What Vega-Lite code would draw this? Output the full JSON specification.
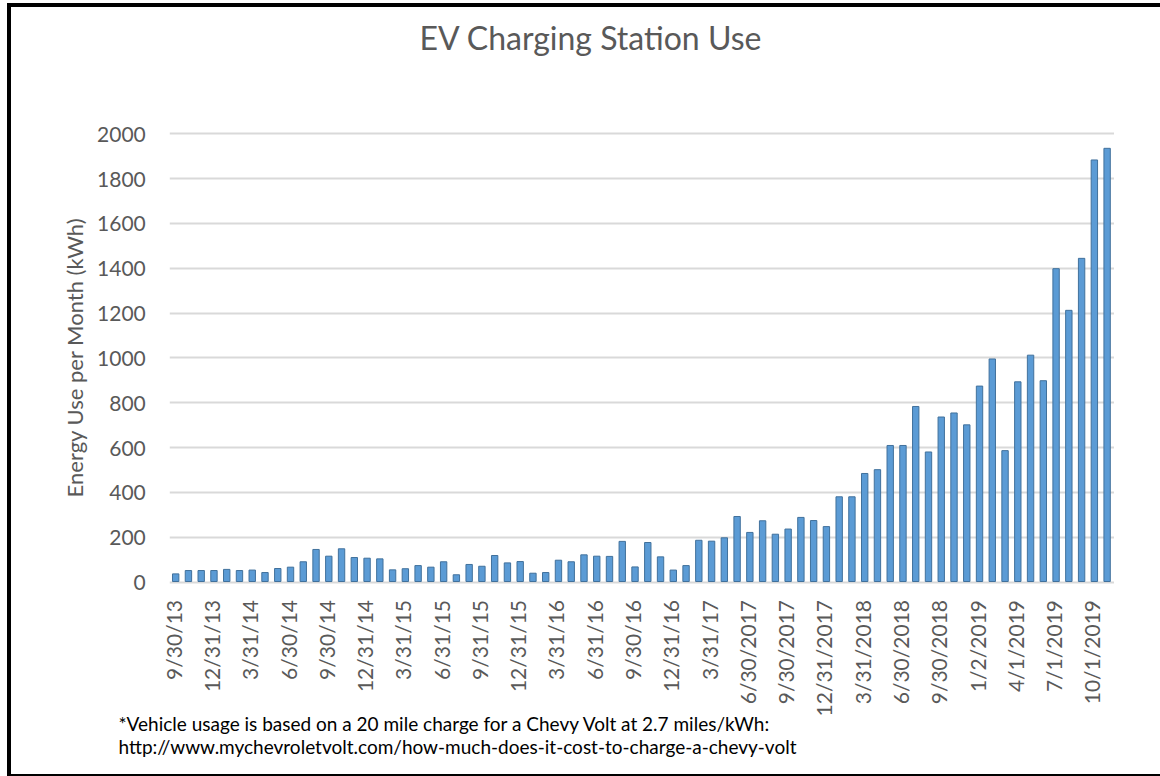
{
  "$schema": "https://vega.github.io/schema/vega-lite/v6.json",
  "autosize": "none",
  "width": 1153,
  "height": 771,
  "padding": {"left": 9, "top": 5, "right": 0, "bottom": 0},
  "background": "white",
  "title": {
    "text": "EV Charging Station Use",
    "font": "Lato",
    "fontSize": 32,
    "fontWeight": "normal",
    "color": "#595959",
    "anchor": "middle",
    "frame": "group",
    "offset": 0,
    "dy": 77,
    "dx": 5,
    "baseline": "alphabetic"
  },
  "config": {"view": {"stroke": "black", "strokeWidth": 4}},
  "data": {
    "values": [
      {"date": "9/30/13", "kwh": 34},
      {"date": "10/31/13", "kwh": 49},
      {"date": "11/30/13", "kwh": 49},
      {"date": "12/31/13", "kwh": 49},
      {"date": "1/31/14", "kwh": 54},
      {"date": "2/28/14", "kwh": 49},
      {"date": "3/31/14", "kwh": 51},
      {"date": "4/30/14", "kwh": 40},
      {"date": "5/31/14", "kwh": 58},
      {"date": "6/30/14", "kwh": 64},
      {"date": "7/31/14", "kwh": 88},
      {"date": "8/31/14", "kwh": 143},
      {"date": "9/30/14", "kwh": 113},
      {"date": "10/31/14", "kwh": 146},
      {"date": "11/30/14", "kwh": 107},
      {"date": "12/31/14", "kwh": 104},
      {"date": "1/31/15", "kwh": 101},
      {"date": "2/28/15", "kwh": 52},
      {"date": "3/31/15", "kwh": 57},
      {"date": "4/30/15", "kwh": 71},
      {"date": "5/31/15", "kwh": 64},
      {"date": "6/31/15", "kwh": 88},
      {"date": "7/31/15", "kwh": 30},
      {"date": "8/31/15", "kwh": 76},
      {"date": "9/31/15", "kwh": 68},
      {"date": "10/31/15", "kwh": 116},
      {"date": "11/30/15", "kwh": 83},
      {"date": "12/31/15", "kwh": 89},
      {"date": "1/31/16", "kwh": 37},
      {"date": "2/29/16", "kwh": 40},
      {"date": "3/31/16", "kwh": 95},
      {"date": "4/30/16", "kwh": 88},
      {"date": "5/31/16", "kwh": 119},
      {"date": "6/31/16", "kwh": 113},
      {"date": "7/31/16", "kwh": 112},
      {"date": "8/31/16", "kwh": 179},
      {"date": "9/30/16", "kwh": 65},
      {"date": "10/31/16", "kwh": 174},
      {"date": "11/30/16", "kwh": 110},
      {"date": "12/31/16", "kwh": 51},
      {"date": "1/31/17", "kwh": 71},
      {"date": "2/28/17", "kwh": 184},
      {"date": "3/31/17", "kwh": 180},
      {"date": "4/30/17", "kwh": 195},
      {"date": "5/31/17", "kwh": 290},
      {"date": "6/30/2017", "kwh": 219},
      {"date": "7/31/2017", "kwh": 271},
      {"date": "8/31/2017", "kwh": 211},
      {"date": "9/30/2017", "kwh": 234},
      {"date": "10/31/2017", "kwh": 286},
      {"date": "11/30/2017", "kwh": 272},
      {"date": "12/31/2017", "kwh": 245},
      {"date": "1/31/2018", "kwh": 378},
      {"date": "2/28/2018", "kwh": 378},
      {"date": "3/31/2018", "kwh": 482},
      {"date": "4/30/2018", "kwh": 499},
      {"date": "5/31/2018", "kwh": 607},
      {"date": "6/30/2018", "kwh": 607},
      {"date": "7/31/2018", "kwh": 781},
      {"date": "8/31/2018", "kwh": 578},
      {"date": "9/30/2018", "kwh": 734},
      {"date": "10/31/2018", "kwh": 752},
      {"date": "11/30/2018", "kwh": 699},
      {"date": "1/2/2019", "kwh": 872},
      {"date": "2/1/2019", "kwh": 993},
      {"date": "3/1/2019", "kwh": 584},
      {"date": "4/1/2019", "kwh": 891},
      {"date": "5/1/2019", "kwh": 1010},
      {"date": "6/1/2019", "kwh": 896},
      {"date": "7/1/2019", "kwh": 1396},
      {"date": "8/1/2019", "kwh": 1210},
      {"date": "9/1/2019", "kwh": 1442},
      {"date": "10/1/2019", "kwh": 1881},
      {"date": "11/1/2019", "kwh": 1933}
    ]
  },
  "mark": {"type": "bar", "color": "#5B9BD5", "stroke": "#41719C", "strokeWidth": 1},
  "encoding": {
    "x": {
      "field": "date",
      "type": "nominal",
      "sort": null,
      "scale": {"range": [160.3, 1104.5], "paddingInner": 0.5, "paddingOuter": 0.25},
      "axis": {
        "orient": "bottom",
        "offset": -194.5,
        "values": ["9/30/13", "12/31/13", "3/31/14", "6/30/14", "9/30/14", "12/31/14", "3/31/15", "6/31/15", "9/31/15", "12/31/15", "3/31/16", "6/31/16", "9/30/16", "12/31/16", "3/31/17", "6/30/2017", "9/30/2017", "12/31/2017", "3/31/2018", "6/30/2018", "9/30/2018", "1/2/2019", "4/1/2019", "7/1/2019", "10/1/2019"],
        "labelAngle": -90,
        "labelFont": "Lato",
        "labelFontSize": 21,
        "labelColor": "#595959",
        "labelPadding": 18,
        "labelOverlap": false,
        "ticks": false,
        "domain": false,
        "grid": false,
        "title": ["*Vehicle usage is based on a 20 mile charge for a Chevy Volt at 2.7 miles/kWh:", "http://www.mychevroletvolt.com/how-much-does-it-cost-to-charge-a-chevy-volt"],
        "titleFont": "Lato",
        "titleFontSize": 19,
        "titleFontWeight": "normal",
        "titleColor": "#000000",
        "titleAlign": "left",
        "titleAnchor": "start",
        "titleX": 109,
        "titleY": 148.5,
        "titleBaseline": "alphabetic",
        "titleLineHeight": 23
      }
    },
    "y": {
      "field": "kwh",
      "type": "quantitative",
      "scale": {"domain": [0, 2000], "range": [576.5, 128.3], "nice": false},
      "axis": {
        "offset": -160.3,
        "values": [0, 200, 400, 600, 800, 1000, 1200, 1400, 1600, 1800, 2000],
        "format": "d",
        "labelFont": "Lato",
        "labelFontSize": 21,
        "labelColor": "#595959",
        "labelPadding": 24,
        "labelOffset": 2,
        "ticks": false,
        "domain": false,
        "grid": true,
        "gridColor": "#D9D9D9",
        "gridWidth": 2,
        "title": "Energy Use per Month (kWh)",
        "titleFont": "Lato",
        "titleFontSize": 22,
        "titleFontWeight": "normal",
        "titleColor": "#595959",
        "titlePadding": 9
      }
    }
  }
}
